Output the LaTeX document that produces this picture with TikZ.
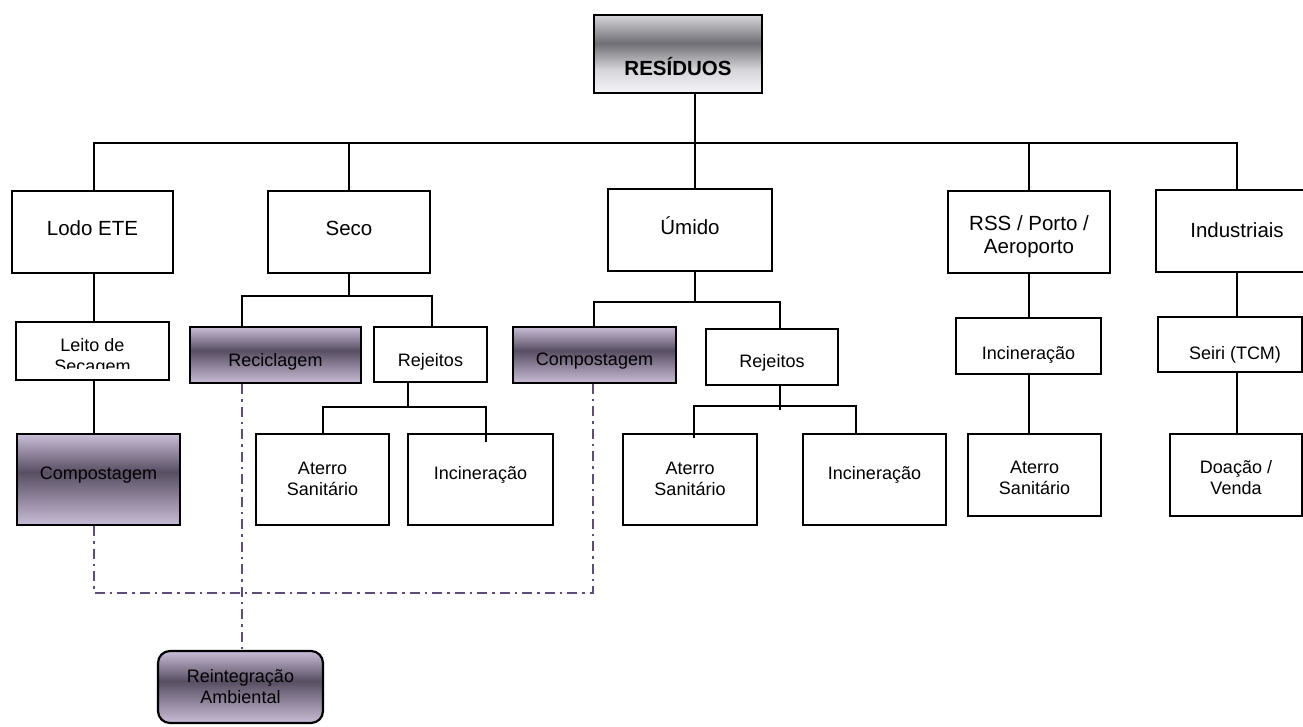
\documentclass[tikz,border=0pt]{standalone}
\usepackage{fontspec}
\setmainfont{Liberation Sans}
\definecolor{lav}{RGB}{201,189,215}
\definecolor{dk}{RGB}{88,78,98}
\definecolor{gtop}{RGB}{214,214,218}
\definecolor{gdk}{RGB}{110,110,116}
\definecolor{gbot}{RGB}{245,245,250}
\definecolor{ddc}{RGB}{96,76,124}
\pgfdeclareverticalshading{purp}{100bp}{color(0bp)=(lav); color(25bp)=(lav); color(54bp)=(dk); color(75bp)=(lav); color(100bp)=(lav)}
\pgfdeclareverticalshading{gray3}{100bp}{color(0bp)=(gbot); color(25bp)=(gbot); color(40bp)=(gtop); color(57bp)=(gdk); color(75bp)=(gtop); color(100bp)=(gtop)}
\newcommand\bx[2]{\raisebox{-#1pt}[0pt][0pt]{\begin{tabular}[t]{@{}c@{}}#2\end{tabular}}}
\tikzset{
  box/.style={draw, line width=2.2pt, fill=white, inner sep=0pt, font=\fontsize{18}{21}\selectfont},
  big/.style={font=\fontsize{20.5}{23.5}\selectfont},
  pbox/.style={shading=purp},
  ln/.style={line width=2.2pt},
  dd/.style={draw=ddc, line width=2.8pt, dash pattern=on 10pt off 5pt on 2.5pt off 5pt}
}
\begin{document}
\begin{tikzpicture}[x=1pt,y=-1pt]
\useasboundingbox[fill=white] (0,0) rectangle (1303,727);
% top
\node[box, big, shading=gray3, minimum width=168pt, minimum height=78pt] (res) at (678,54) {\bfseries\bx{21.7}{RESÍDUOS}};
% level 1
\node[box, big, minimum width=161pt, minimum height=82pt] (lodo) at (92.5,232) {\bx{4}{Lodo ETE}};
\node[box, big, minimum width=162pt, minimum height=82pt] (seco) at (349,232) {\bx{4}{Seco}};
\node[box, big, minimum width=164pt, minimum height=82pt] (umido) at (690,230) {\bx{5}{Úmido}};
\node[box, big, minimum width=162pt, minimum height=82pt] (rss) at (1029,232) {\bx{-1.5}{RSS / Porto /\\Aeroporto}};
\node[box, big, minimum width=162pt, minimum height=82pt] (ind) at (1237,231) {\bx{6.4}{Industriais}};
% level 2
\begin{scope}
\clip (0,0) rectangle (1303,368);
\node[box, draw=none, minimum width=151pt, minimum height=56pt] (leito) at (92.5,351) {\bx{0}{Leito de\\Secagem}};
\end{scope}
\draw[ln] (leito.south west) rectangle (leito.north east);
\node[box, pbox, minimum width=171pt, minimum height=56pt] (recic) at (275.5,355) {\bx{11}{Reciclagem}};
\node[box, minimum width=113pt, minimum height=55pt] (rej1) at (430.5,354.5) {\bx{11.5}{Rejeitos}};
\node[box, pbox, minimum width=163pt, minimum height=56pt] (comp2) at (594.5,355) {\bx{10}{Compostagem}};
\node[box, minimum width=132pt, minimum height=56pt] (rej2) at (772,357) {\bx{10}{Rejeitos}};
\node[box, minimum width=145pt, minimum height=56pt] (inc3) at (1028.5,346) {\bx{13}{Incineração}};
\node[box, minimum width=144pt, minimum height=55pt] (seiri) at (1230,344.5) {\bx{14.5}{\hspace*{10pt}Seiri (TCM)}};
% level 3
\node[box, pbox, minimum width=163pt, minimum height=91pt] (comp1) at (98.5,479.5) {\bx{0}{Compostagem}};
\node[box, minimum width=133pt, minimum height=91pt] (at1) at (322.5,479.5) {\bx{-5.5}{Aterro\\Sanitário}};
\node[box, minimum width=145pt, minimum height=91pt] (inc1) at (480.5,479.5) {\bx{0}{Incineração}};
\node[box, minimum width=134pt, minimum height=91pt] (at2) at (690,479.5) {\bx{-5.5}{Aterro\\Sanitário}};
\node[box, minimum width=143pt, minimum height=91pt] (inc2) at (874.5,479.5) {\bx{0}{Incineração}};
\node[box, minimum width=133pt, minimum height=82pt] (at3) at (1034.5,475) {\bx{-2}{Aterro\\Sanitário}};
\node[box, minimum width=132pt, minimum height=82pt] (doa) at (1236,475) {\bx{-2}{Doação /\\Venda}};
% bottom
\node[box, pbox, rounded corners=12pt, minimum width=165pt, minimum height=72pt] (reint) at (240.5,687) {\bx{-5}{Reintegração\\Ambiental}};
% junction coordinates
\coordinate (bus) at (695,143);
\coordinate (s1) at (242,296);
\coordinate (s2) at (432,296);
\coordinate (u1) at (594,302);
\coordinate (u2) at (780,302);
\coordinate (r0) at (408,407);
\coordinate (r1) at (323,407);
\coordinate (r2) at (486,407);
\coordinate (q1) at (694,406);
\coordinate (q2) at (856,406);
\coordinate (d1) at (94,593);
\coordinate (d2) at (593,593);
% solid connectors
\draw[ln] (bus |- res.south) -- (bus);
\draw[ln] (d1 |- lodo.north) |- (bus) -| (ind.north);
\draw[ln] (seco.north) -- (seco.north |- bus);
\draw[ln] (bus) -- (bus |- umido.north);
\draw[ln] (rss.north) -- (rss.north |- bus);
\draw[ln] (d1 |- lodo.south) -- (d1 |- leito.north);
\draw[ln] (d1 |- leito.south) -- (d1 |- comp1.north);
\draw[ln] (seco.south) -- (seco.south |- s1);
\draw[ln] (s1 |- recic.north) -- (s1) -- (s2) -- (s2 |- rej1.north);
\draw[ln] (bus |- umido.south) -- (bus |- u1);
\draw[ln] (u1 |- comp2.north) -- (u1) -- (u2) -- (u2 |- rej2.north);
\draw[ln] (r0 |- rej1.south) -- (r0);
\draw[ln] (r1 |- at1.north) -- (r1) -- (r2) -- ([yshift=-9pt]r2 |- inc1.north);
\draw[ln] (u2 |- rej2.south) -- ([yshift=-4pt]u2 |- q1);
\draw[ln] ([yshift=-5pt]q1 |- at2.north) -- (q1) -- (q2) -- (q2 |- inc2.north);
\draw[ln] (rss.south) -- (rss.south |- inc3.north);
\draw[ln] (rss.south |- inc3.south) -- (rss.south |- at3.north);
\draw[ln] (ind.south) -- (ind.south |- seiri.north);
\draw[ln] (ind.south |- seiri.south) -- (ind.south |- doa.north);
% dash-dot connectors
\draw[dd] (d1 |- comp1.south) -- (d1) -- (d2) -- (d2 |- comp2.south);
\draw[dd] (s1 |- recic.south) -- (s1 |- reint.north);
\end{tikzpicture}
\end{document}
